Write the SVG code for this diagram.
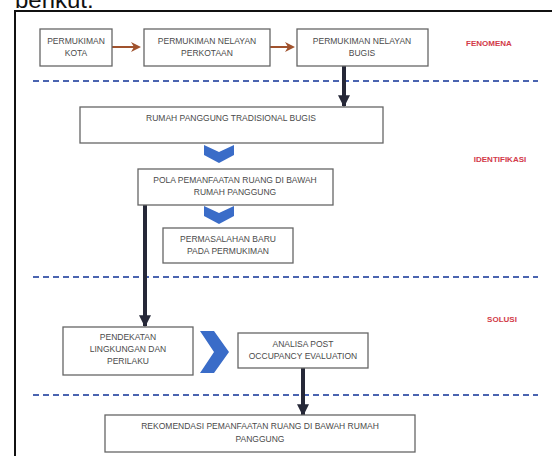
<svg xmlns="http://www.w3.org/2000/svg" width="552" height="456" viewBox="0 0 552 456">
<defs>
<style>
.box{fill:#fff;stroke:#666;stroke-width:1.3}
.t{font-family:"Liberation Sans",Arial,sans-serif;font-size:8.5px;fill:#4a4a4a;text-anchor:middle}
.lbl{font-family:"Liberation Sans",Arial,sans-serif;font-size:8px;font-weight:bold;fill:#d23a48;text-anchor:middle}
.dash{stroke:#4a64b0;stroke-width:2;stroke-dasharray:6 4;fill:none}
.brown{stroke:#a0522d;stroke-width:2;fill:none}
.dark{stroke:#262838;stroke-width:4;fill:none}
.chev{fill:#3a6cc8}
</style>
<marker id="ab" viewBox="0 0 10 10" refX="8" refY="5" markerWidth="5" markerHeight="5" orient="auto"><path d="M0,0 L10,5 L0,10 L3,5 Z" fill="#a0522d"/></marker>
<marker id="ad" viewBox="0 0 10 10" refX="9" refY="5" markerWidth="3" markerHeight="3" orient="auto"><path d="M0,0 L10,5 L0,10 Z" fill="#262838"/></marker>
</defs>
<rect width="552" height="456" fill="#fff"/>
<text x="15" y="8" font-family="Liberation Sans,Arial,sans-serif" font-size="24" fill="#111">berikut:</text>
<rect x="15" y="11" width="560" height="470" fill="none" stroke="#111" stroke-width="2"/>

<g id="dividers">
<line class="dash" x1="33" y1="81" x2="538" y2="81"/>
<line class="dash" x1="33" y1="277" x2="538" y2="277"/>
<line class="dash" x1="33" y1="395" x2="538" y2="395"/>
</g>

<g id="connectors">
<line class="brown" x1="112" y1="47" x2="139" y2="47" marker-end="url(#ab)"/>
<line class="brown" x1="270" y1="47" x2="293" y2="47" marker-end="url(#ab)"/>
<line class="dark" x1="344" y1="65" x2="344" y2="106" marker-end="url(#ad)"/>
<line class="dark" x1="145" y1="205" x2="145" y2="326" marker-end="url(#ad)"/>
<line class="dark" x1="303" y1="368" x2="303" y2="415" marker-end="url(#ad)"/>
<polygon class="chev" points="204,145 219,152 234,145 234,155 219,163 204,155"/>
<polygon class="chev" points="204,206 219,213 234,206 234,216 219,224 204,216"/>
<polygon class="chev" points="200,331 214,331 229,352 214,373 200,373 214,352"/>
</g>

<g id="n1"><rect class="box" x="40" y="29" width="72" height="37"/><text class="t" x="76" y="44">PERMUKIMAN</text><text class="t" x="76" y="56">KOTA</text></g>
<g id="n2"><rect class="box" x="144" y="29" width="126" height="37"/><text class="t" x="207" y="44">PERMUKIMAN NELAYAN</text><text class="t" x="207" y="56">PERKOTAAN</text></g>
<g id="n3"><rect class="box" x="297" y="29" width="131" height="37"/><text class="t" x="362" y="44">PERMUKIMAN NELAYAN</text><text class="t" x="362" y="56">BUGIS</text></g>
<g id="fenomena"><text class="lbl" x="489" y="46">FENOMENA</text></g>

<g id="n4"><rect class="box" x="80" y="107" width="303" height="36"/><text class="t" x="231" y="121">RUMAH PANGGUNG TRADISIONAL BUGIS</text></g>
<g id="identifikasi"><text class="lbl" x="500" y="162">IDENTIFIKASI</text></g>
<g id="n5"><rect class="box" x="138" y="169" width="195" height="36"/><text class="t" x="235" y="183">POLA PEMANFAATAN RUANG DI BAWAH</text><text class="t" x="235" y="195">RUMAH PANGGUNG</text></g>
<g id="n6"><rect class="box" x="163" y="228" width="130" height="35"/><text class="t" x="228" y="242">PERMASALAHAN BARU</text><text class="t" x="228" y="254">PADA PERMUKIMAN</text></g>

<g id="solusi"><text class="lbl" x="502" y="322">SOLUSI</text></g>
<g id="n7"><rect class="box" x="63" y="327" width="130" height="48"/><text class="t" x="128" y="340">PENDEKATAN</text><text class="t" x="128" y="352">LINGKUNGAN DAN</text><text class="t" x="128" y="364">PERILAKU</text></g>
<g id="n8"><rect class="box" x="238" y="333" width="130" height="35"/><text class="t" x="303" y="347">ANALISA POST</text><text class="t" x="303" y="359">OCCUPANCY EVALUATION</text></g>

<g id="n9"><rect class="box" x="105" y="415" width="310" height="37"/><text class="t" x="260" y="429">REKOMENDASI PEMANFAATAN RUANG DI BAWAH RUMAH</text><text class="t" x="260" y="442">PANGGUNG</text></g>
</svg>
